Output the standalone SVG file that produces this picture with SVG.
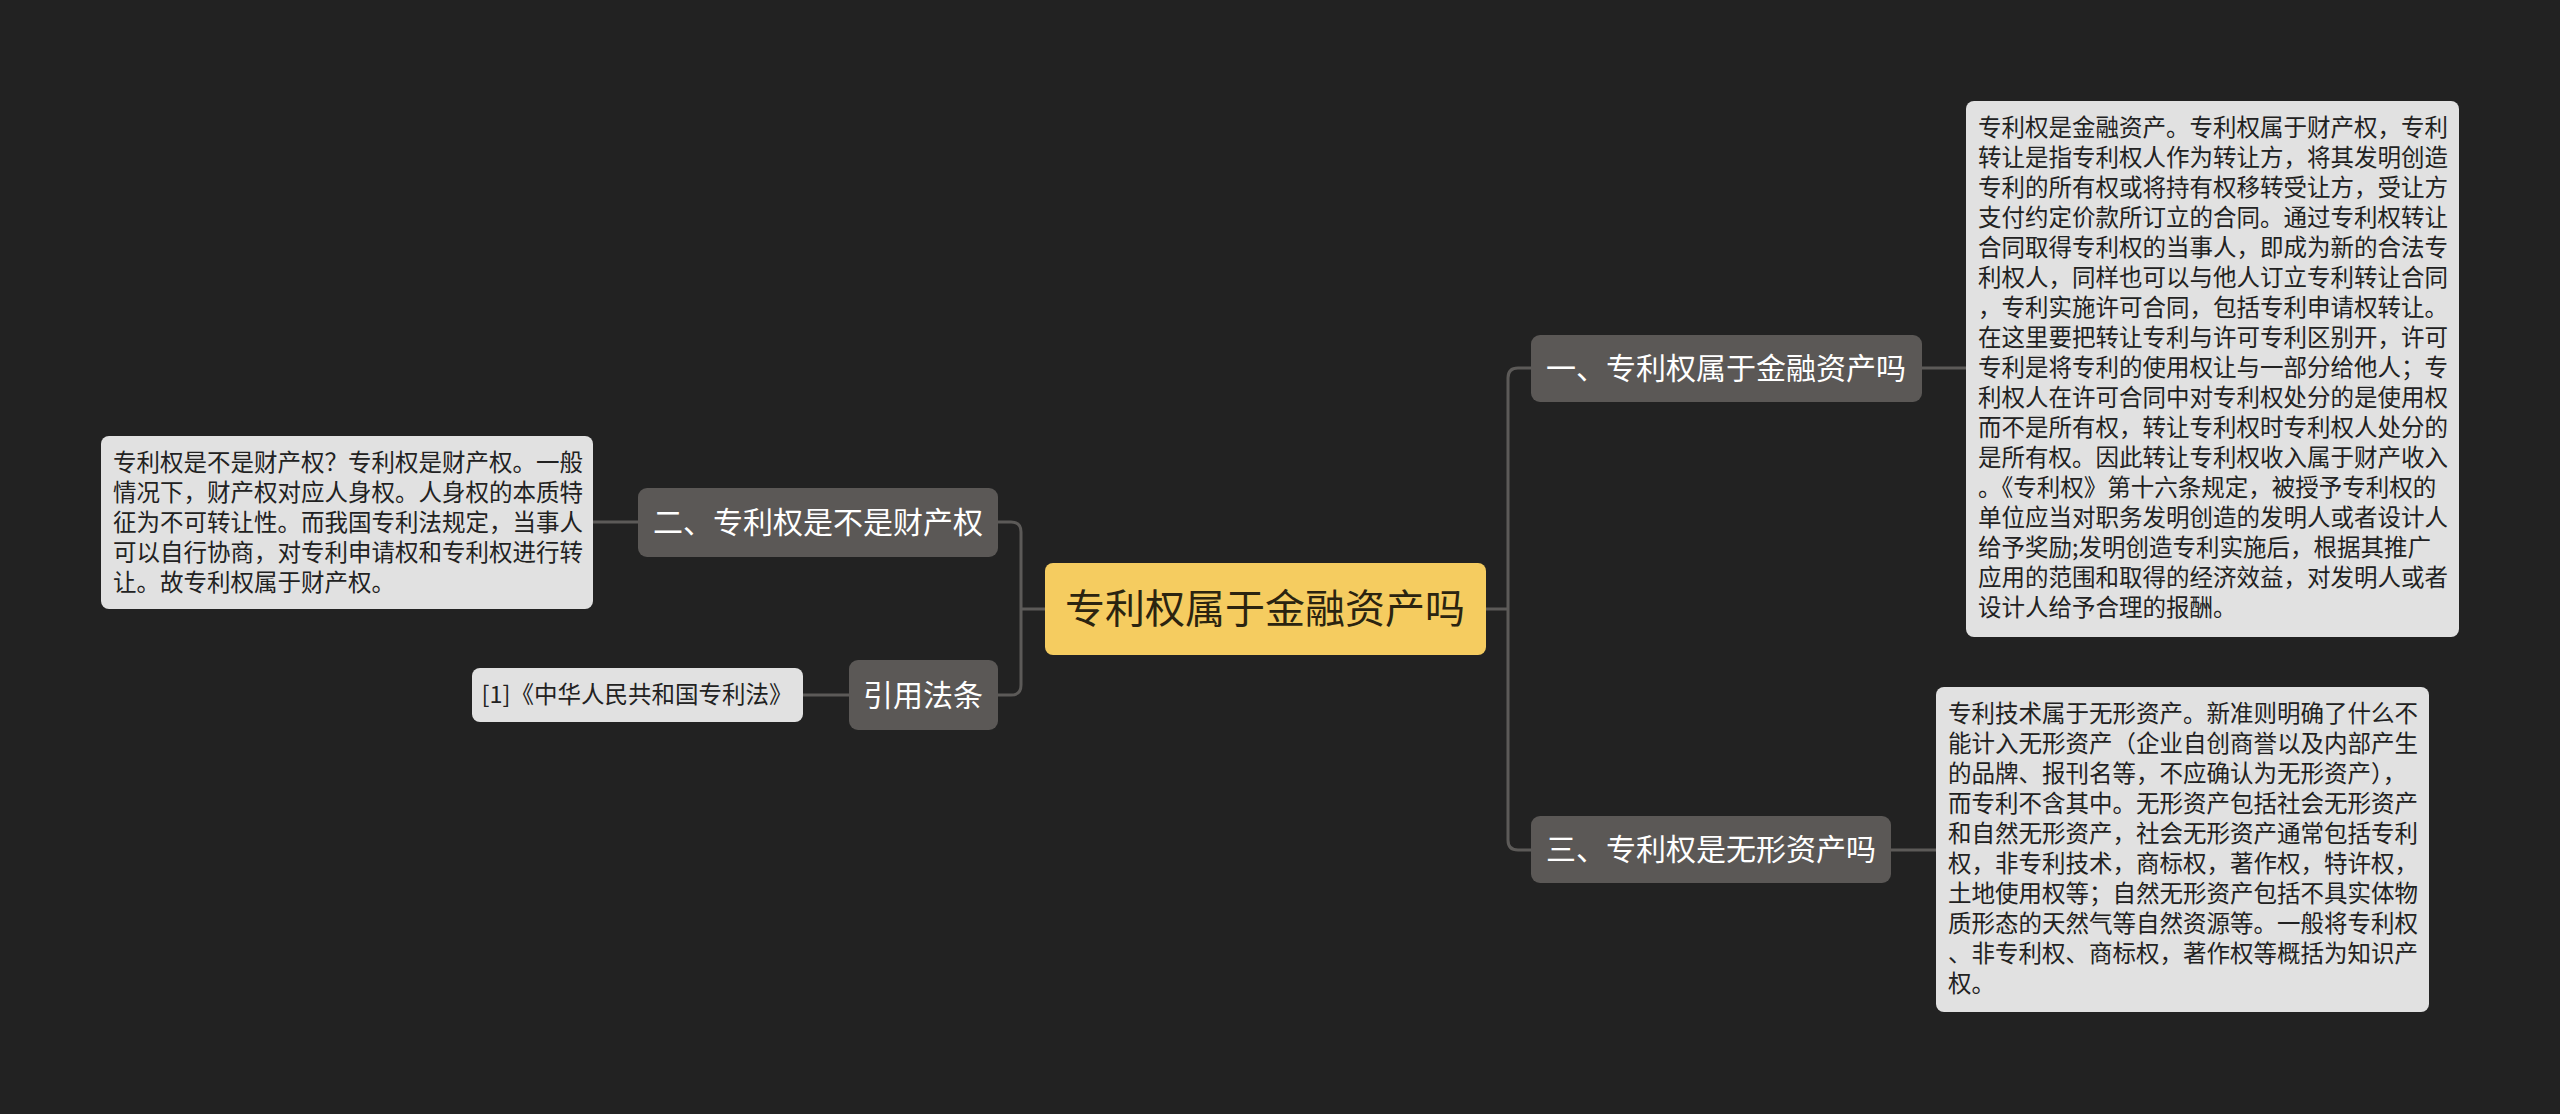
<svg xmlns="http://www.w3.org/2000/svg" width="2560" height="1114" viewBox="0 0 2560 1114">
<style>
.bg{fill:#222222}
.conn{fill:none;stroke:#5c5a58;stroke-width:3}
.node rect{fill:#5b5856}
.node text{fill:#ffffff;font-family:"Noto Sans CJK SC","Microsoft YaHei",sans-serif;font-size:30px;text-anchor:middle}
.leaf rect{fill:#e1e1e1}
.leaf text{fill:#222222;font-family:"Noto Sans CJK SC","Microsoft YaHei",sans-serif;font-size:23.5px}
.root rect{fill:#f5cc60}
.root text{fill:#2b2410;font-family:"Noto Sans CJK SC","Microsoft YaHei",sans-serif;font-size:40px;text-anchor:middle}
</style>
<rect class="bg" x="0" y="0" width="2560" height="1114"/>
<g id="connectors">
<path class="conn" d="M1045,609 H1021"/>
<path class="conn" d="M998,522 H1011 Q1021,522 1021,532 V685 Q1021,695 1011,695 H998"/>
<path class="conn" d="M1486,609 H1508"/>
<path class="conn" d="M1531,368 H1518 Q1508,368 1508,378 V840 Q1508,850 1518,850 H1531"/>
<path class="conn" d="M1922,368 H1966"/>
<path class="conn" d="M1891,850 H1936"/>
<path class="conn" d="M638,522 H593"/>
<path class="conn" d="M849,695 H803"/>
</g>
<g id="root" class="root">
<rect x="1045" y="563" width="441" height="92" rx="8"/>
<text x="1265" y="623">专利权属于金融资产吗</text>
</g>
<g id="node1" class="node">
<rect x="1531" y="335" width="391" height="67" rx="9"/>
<text x="1726" y="379">一、专利权属于金融资产吗</text>
</g>
<g id="node3" class="node">
<rect x="1531" y="816" width="360" height="67" rx="9"/>
<text x="1711" y="860">三、专利权是无形资产吗</text>
</g>
<g id="node2" class="node">
<rect x="638" y="488" width="360" height="69" rx="9"/>
<text x="818" y="533">二、专利权是不是财产权</text>
</g>
<g id="node-cite" class="node">
<rect x="849" y="660" width="149" height="70" rx="9"/>
<text x="923" y="706">引用法条</text>
</g>
<g id="leaf1" class="leaf">
<rect x="1966" y="101" width="493" height="536" rx="8"/>
<text x="1978" y="136">专利权是金融资产。专利权属于财产权，专利</text>
<text x="1978" y="166">转让是指专利权人作为转让方，将其发明创造</text>
<text x="1978" y="196">专利的所有权或将持有权移转受让方，受让方</text>
<text x="1978" y="226">支付约定价款所订立的合同。通过专利权转让</text>
<text x="1978" y="256">合同取得专利权的当事人，即成为新的合法专</text>
<text x="1978" y="286">利权人，同样也可以与他人订立专利转让合同</text>
<text x="1978" y="316">，专利实施许可合同，包括专利申请权转让。</text>
<text x="1978" y="346">在这里要把转让专利与许可专利区别开，许可</text>
<text x="1978" y="376">专利是将专利的使用权让与一部分给他人；专</text>
<text x="1978" y="406">利权人在许可合同中对专利权处分的是使用权</text>
<text x="1978" y="436">而不是所有权，转让专利权时专利权人处分的</text>
<text x="1978" y="466">是所有权。因此转让专利权收入属于财产收入</text>
<text x="1978" y="496">。《专利权》第十六条规定，被授予专利权的</text>
<text x="1978" y="526">单位应当对职务发明创造的发明人或者设计人</text>
<text x="1978" y="556">给予奖励;发明创造专利实施后，根据其推广</text>
<text x="1978" y="586">应用的范围和取得的经济效益，对发明人或者</text>
<text x="1978" y="616">设计人给予合理的报酬。</text>
</g>
<g id="leaf3" class="leaf">
<rect x="1936" y="687" width="493" height="325" rx="8"/>
<text x="1948" y="722">专利技术属于无形资产。新准则明确了什么不</text>
<text x="1948" y="752">能计入无形资产（企业自创商誉以及内部产生</text>
<text x="1948" y="782">的品牌、报刊名等，不应确认为无形资产），</text>
<text x="1948" y="812">而专利不含其中。无形资产包括社会无形资产</text>
<text x="1948" y="842">和自然无形资产，社会无形资产通常包括专利</text>
<text x="1948" y="872">权，非专利技术，商标权，著作权，特许权，</text>
<text x="1948" y="902">土地使用权等；自然无形资产包括不具实体物</text>
<text x="1948" y="932">质形态的天然气等自然资源等。一般将专利权</text>
<text x="1948" y="962">、非专利权、商标权，著作权等概括为知识产</text>
<text x="1948" y="992">权。</text>
</g>
<g id="leaf2" class="leaf">
<rect x="101" y="436" width="492" height="173" rx="8"/>
<text x="113" y="471">专利权是不是财产权？专利权是财产权。一般</text>
<text x="113" y="501">情况下，财产权对应人身权。人身权的本质特</text>
<text x="113" y="531">征为不可转让性。而我国专利法规定，当事人</text>
<text x="113" y="561">可以自行协商，对专利申请权和专利权进行转</text>
<text x="113" y="591">让。故专利权属于财产权。</text>
</g>
<g id="leaf-cite" class="leaf">
<rect x="472" y="668" width="331" height="54" rx="8"/>
<text x="637" y="703" text-anchor="middle">[1]《中华人民共和国专利法》</text>
</g>
</svg>
